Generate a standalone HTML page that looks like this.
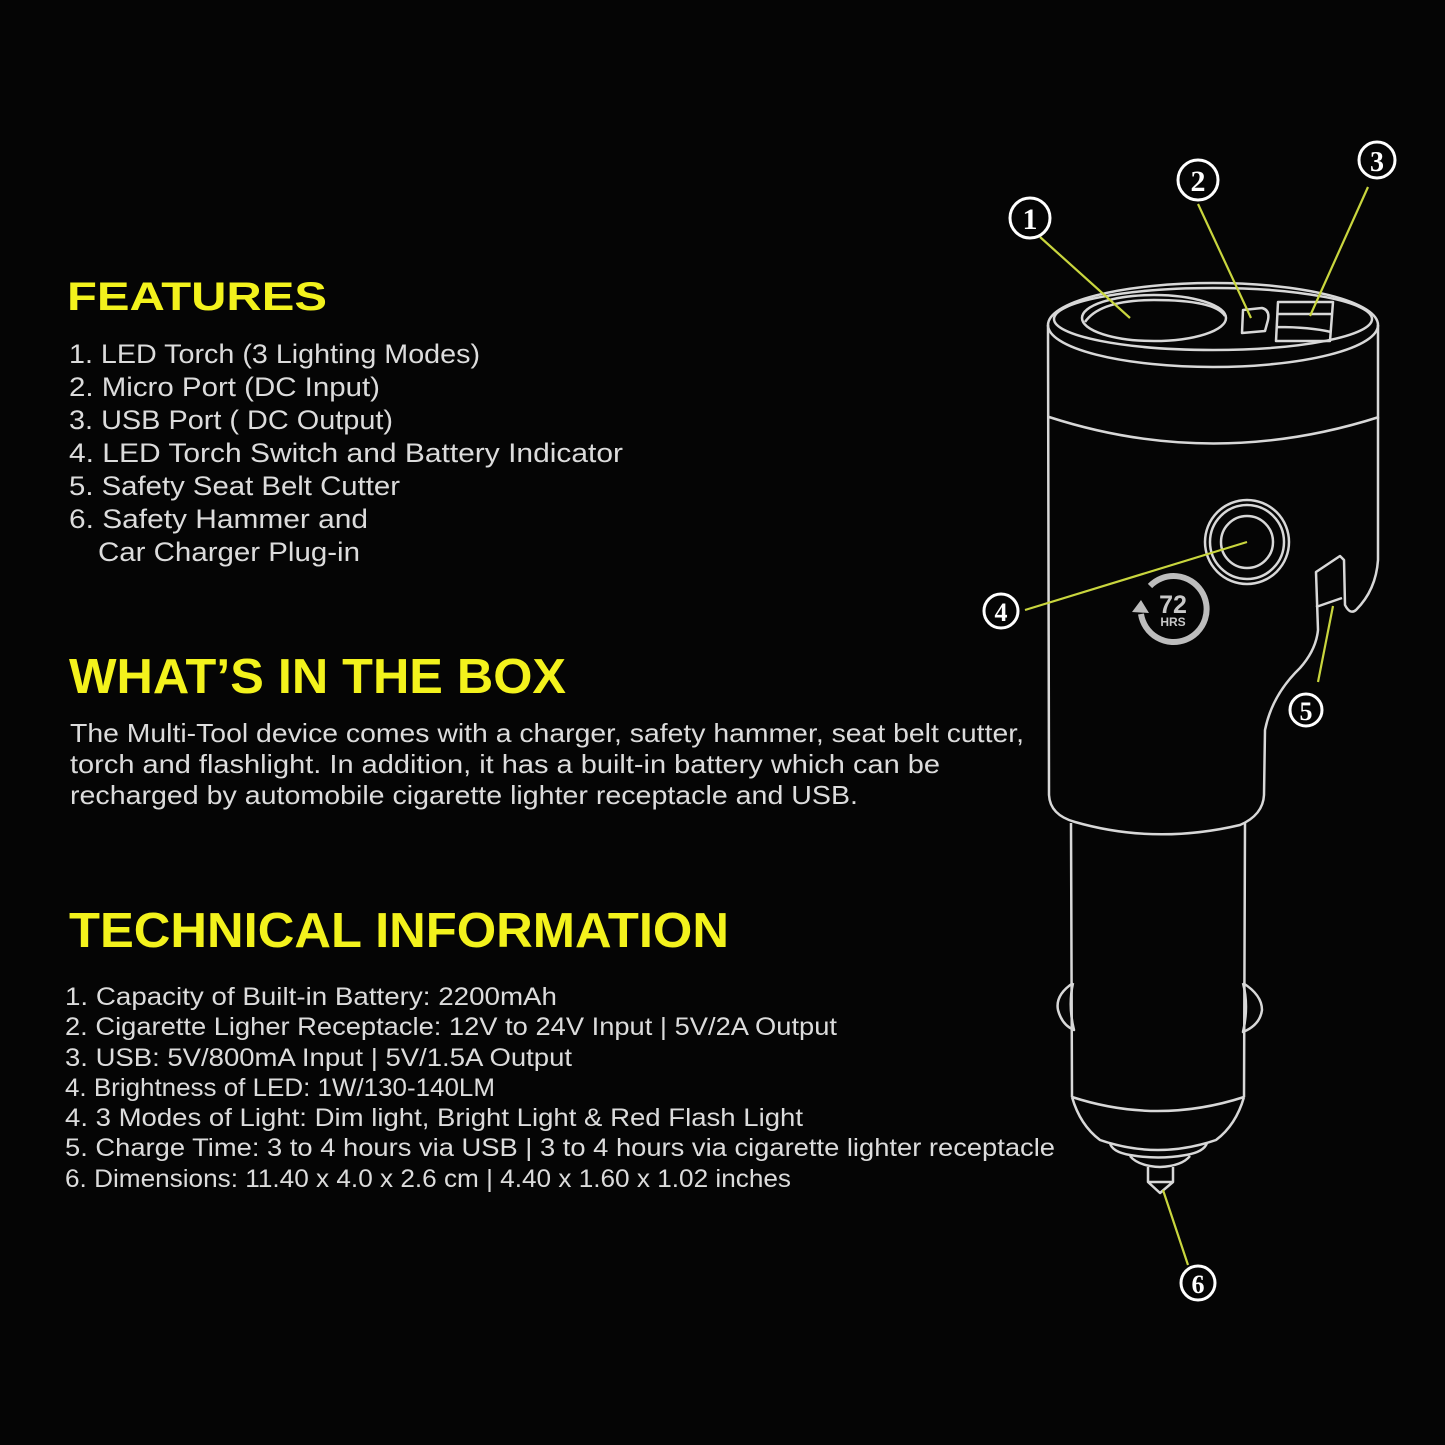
<!DOCTYPE html>
<html><head><meta charset="utf-8"><style>
html,body{margin:0;padding:0;background:#050505;}
svg{display:block}
.h{font-family:"Liberation Sans",sans-serif;font-weight:bold;fill:#f3f21c}
.t{font-family:"Liberation Sans",sans-serif;fill:#dcdcdc}
.n{font-family:"Liberation Serif",serif;font-weight:bold;fill:#fff;text-anchor:middle}
</style></head><body>
<svg width="1445" height="1445" viewBox="0 0 1445 1445" xmlns="http://www.w3.org/2000/svg">
<rect width="1445" height="1445" fill="#050505"/>
<text class="h" x="67" y="310" font-size="40" textLength="260" lengthAdjust="spacingAndGlyphs">FEATURES</text>
<g class="t" font-size="27">
<text x="69" y="363" textLength="411" lengthAdjust="spacingAndGlyphs">1. LED Torch (3 Lighting Modes)</text>
<text x="69" y="396" textLength="311" lengthAdjust="spacingAndGlyphs">2. Micro Port (DC Input)</text>
<text x="69" y="429" textLength="324" lengthAdjust="spacingAndGlyphs">3. USB Port ( DC Output)</text>
<text x="69" y="462" textLength="554" lengthAdjust="spacingAndGlyphs">4. LED Torch Switch and Battery Indicator</text>
<text x="69" y="495" textLength="331" lengthAdjust="spacingAndGlyphs">5. Safety Seat Belt Cutter</text>
<text x="69" y="528" textLength="299" lengthAdjust="spacingAndGlyphs">6. Safety Hammer and</text>
<text x="98" y="561" textLength="262" lengthAdjust="spacingAndGlyphs">Car Charger Plug-in</text>
</g>
<text class="h" x="69" y="693" font-size="49" textLength="497" lengthAdjust="spacingAndGlyphs">WHAT’S IN THE BOX</text>
<g class="t" font-size="26">
<text x="70" y="742" textLength="954" lengthAdjust="spacingAndGlyphs">The Multi-Tool device comes with a charger, safety hammer, seat belt cutter,</text>
<text x="70" y="773" textLength="870" lengthAdjust="spacingAndGlyphs">torch and flashlight. In addition, it has a built-in battery which can be</text>
<text x="70" y="804" textLength="788" lengthAdjust="spacingAndGlyphs">recharged by automobile cigarette lighter receptacle and USB.</text>
</g>
<text class="h" x="69" y="947" font-size="49" textLength="660" lengthAdjust="spacingAndGlyphs">TECHNICAL INFORMATION</text>
<g class="t" font-size="25">
<text x="65" y="1005" textLength="492" lengthAdjust="spacingAndGlyphs">1. Capacity of Built-in Battery: 2200mAh</text>
<text x="65" y="1035" textLength="772" lengthAdjust="spacingAndGlyphs">2. Cigarette Ligher Receptacle: 12V to 24V Input | 5V/2A Output</text>
<text x="65" y="1066" textLength="507" lengthAdjust="spacingAndGlyphs">3. USB: 5V/800mA Input | 5V/1.5A Output</text>
<text x="65" y="1096" textLength="430" lengthAdjust="spacingAndGlyphs">4. Brightness of LED: 1W/130-140LM</text>
<text x="65" y="1126" textLength="738" lengthAdjust="spacingAndGlyphs">4. 3 Modes of Light: Dim light, Bright Light &amp; Red Flash Light</text>
<text x="65" y="1156" textLength="990" lengthAdjust="spacingAndGlyphs">5. Charge Time: 3 to 4 hours via USB | 3 to 4 hours via cigarette lighter receptacle</text>
<text x="65" y="1187" textLength="726" lengthAdjust="spacingAndGlyphs">6. Dimensions: 11.40 x 4.0 x 2.6 cm | 4.40 x 1.60 x 1.02 inches</text>
</g>

<g fill="none" stroke="#d8d8d8" stroke-width="2.5" stroke-linejoin="round">
<ellipse cx="1213" cy="325" rx="165" ry="42"/>
<ellipse cx="1213" cy="319" rx="159" ry="31"/>
<ellipse cx="1154" cy="318" rx="72" ry="23"/>
<path d="M1085 322 Q1100 300 1154 300 Q1215 300 1225 316"/>
<path d="M1243 310 L1262 308 Q1270 310 1268 320 L1265 331 L1242 333 Z"/>
<path d="M1278 302 L1333 302 L1330 341 L1276 341 Z M1278 314 L1332 314 M1277 327 Q1310 327 1331 332"/>
<path d="M1049 417 Q1213 470 1379 417"/>
<path d="M1048 325 L1049 795 Q1050 815 1075 822 Q1155 845 1240 825 Q1263 815 1264 795 L1265 730 Q1272 695 1300 668 Q1316 650 1318 630 L1316 572 L1340 556 L1344 560 L1345 605 Q1350 615 1356 610 Q1376 590 1378 560 L1378 325"/>
<path d="M1316 607 L1342 598"/>
<circle cx="1247" cy="542" r="42"/>
<circle cx="1247" cy="542" r="37"/>
<circle cx="1247" cy="542" r="26"/>
<path d="M1071 823 L1072 1097 M1245 823 L1244 1097"/>
<path d="M1072 1097 Q1158 1125 1244 1097"/>
<path d="M1073 983 Q1055 995 1058 1010 Q1062 1025 1074 1030 Q1068 1006 1073 983"/>
<path d="M1243 983 Q1262 995 1262 1010 Q1260 1025 1243 1032 Q1249 1006 1243 983"/>
<path d="M1072 1097 Q1080 1125 1100 1140 Q1158 1160 1216 1140 Q1236 1125 1244 1097"/>
<path d="M1110 1143 Q1112 1152 1130 1155 Q1158 1160 1186 1155 Q1204 1152 1207 1143"/>
<path d="M1130 1156 Q1138 1166 1160 1167 Q1182 1166 1190 1156"/>
<path d="M1148 1167 L1148 1182 L1160 1193 L1173 1182 L1173 1167 M1148 1182 L1173 1182"/>
</g>
<g>
<path d="M1150 586 A33 33 0 1 1 1141 614" fill="none" stroke="#bdbdbd" stroke-width="6"/>
<path d="M1132 612 L1141 600 L1149 613 Z" fill="#bdbdbd"/>
<text x="1173" y="613" font-family="Liberation Sans,sans-serif" font-weight="bold" font-size="25" fill="#c8c8c8" text-anchor="middle">72</text>
<text x="1173" y="626" font-family="Liberation Sans,sans-serif" font-weight="bold" font-size="12" fill="#c8c8c8" text-anchor="middle">HRS</text>
</g>
<g stroke="#c9d63e" stroke-width="2.2" fill="none">
<line x1="1040" y1="237" x2="1130" y2="318"/>
<line x1="1198" y1="204" x2="1251" y2="318"/>
<line x1="1368" y1="187" x2="1310" y2="316"/>
<line x1="1025" y1="610" x2="1247" y2="542"/>
<line x1="1318" y1="682" x2="1333" y2="606"/>
<line x1="1188" y1="1265" x2="1163" y2="1190"/>
</g>
<g fill="#050505" stroke="#fff" stroke-width="3">
<circle cx="1030" cy="218" r="20"/><circle cx="1198" cy="180" r="20"/><circle cx="1377" cy="160" r="18"/>
<circle cx="1001" cy="611" r="17"/><circle cx="1306" cy="710" r="16"/><circle cx="1198" cy="1283" r="17"/>
</g>
<g class="n">
<text x="1030" y="229" font-size="30">1</text>
<text x="1198" y="191" font-size="30">2</text>
<text x="1377" y="171" font-size="28">3</text>
<text x="1001" y="621" font-size="26">4</text>
<text x="1306" y="720" font-size="26">5</text>
<text x="1198" y="1293" font-size="26">6</text>
</g>
</svg>
</body></html>
